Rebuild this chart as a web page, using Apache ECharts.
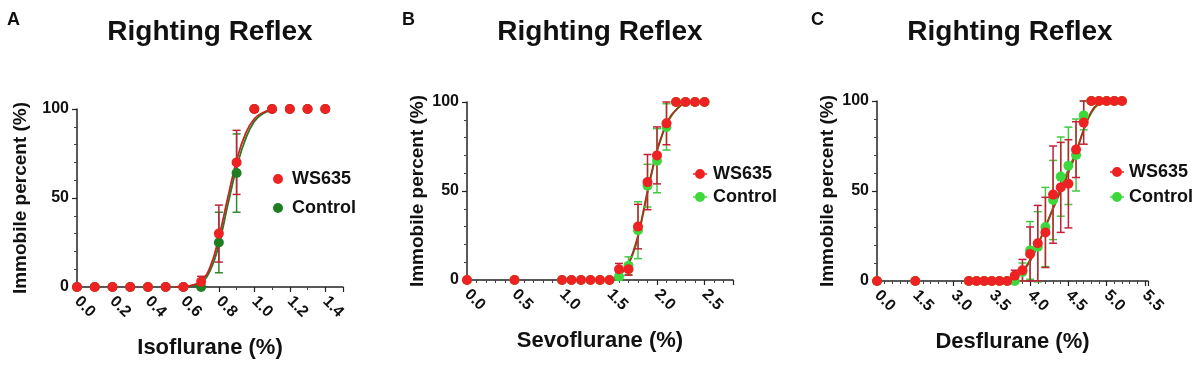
<!DOCTYPE html>
<html>
<head>
<meta charset="utf-8">
<script src="https://cdn.jsdelivr.net/npm/echarts@6/dist/echarts.min.js"></script>
<style>
  html, body { margin: 0; padding: 0; background: #fff; }
  #chart { width: 1200px; height: 367px; }
</style>
</head>
<body>
<div id="chart"></div>
<script>
// A - isoflurane
const isoX = [0, 0.1, 0.2, 0.3, 0.4, 0.5, 0.6, 0.7, 0.8, 0.9, 1.0, 1.1, 1.2, 1.3, 1.4];
const isoWs = [0, 0, 0, 0, 0, 0, 0, 3, 30, 70, 100, 100, 100, 100, 100];
const isoWsErr = [0, 0, 0, 0, 0, 0, 0, 3, 16, 18, 0, 0, 0, 0, 0];
const isoCtl = [0, 0, 0, 0, 0, 0, 0, 0, 25, 64, 100, 100, 100, 100, 100];
const isoCtlErr = [0, 0, 0, 0, 0, 0, 0, 0, 17, 22, 0, 0, 0, 0, 0];
const isoFitX = [0.55, 0.6, 0.65, 0.7, 0.75, 0.8, 0.85, 0.9, 0.95, 1.0, 1.05, 1.1];
const isoFitWs = [0, 0.3, 1, 3.5, 11, 28, 50, 71, 86, 94.5, 98, 99.6];
const isoFitCtl = [0, 0.2, 0.7, 2.5, 9, 24, 46, 67, 83, 93, 97.5, 99.4];

// B - sevoflurane
const sevoX = [0, 0.5, 1.0, 1.1, 1.2, 1.3, 1.4, 1.5, 1.6, 1.7, 1.8, 1.9, 2.0, 2.1, 2.2, 2.3, 2.4, 2.5];
const sevoWs = [0, 0, 0, 0, 0, 0, 0, 0, 6, 6, 30, 55, 70, 88, 100, 100, 100, 100];
const sevoWsErr = [0, 0, 0, 0, 0, 0, 0, 0, 3.3, 3.3, 12.5, 15.5, 16, 12, 0, 0, 0, 0];
const sevoCtl = [0, 0, 0, 0, 0, 0, 0, 0, 2, 8, 28, 53, 67, 86, 100, 100, 100, 100];
const sevoCtlErr = [0, 0, 0, 0, 0, 0, 0, 0, 2, 5, 16, 12, 18, 13, 0, 0, 0, 0];
const sevoFitX = [1.45, 1.5, 1.55, 1.6, 1.65, 1.7, 1.75, 1.8, 1.85, 1.9, 1.95, 2.0, 2.05, 2.1, 2.15, 2.2, 2.25, 2.3];
const sevoFitWs = [0, 0.5, 1.2, 3, 5.5, 9.5, 16, 25, 37, 50, 62, 73, 81, 88, 92.5, 95.5, 98, 99.5];
const sevoFitCtl = [0, 0.4, 1, 2.6, 5, 9, 15, 24, 36, 49, 61, 72, 80.5, 87.5, 92, 95.5, 98, 99.5];

// C - desflurane (segmented axis like the original)
const desTicks = ['0.0', '1.5', '3.0', '3.5', '4.0', '4.5', '5.0', '5.5'];
const desX = [0, 1.5, 3.2, 3.3, 3.4, 3.5, 3.6, 3.7, 3.8, 3.9, 4.0, 4.1, 4.2, 4.3, 4.4, 4.5, 4.6, 4.7, 4.8, 4.9, 5.0, 5.1, 5.2];
const desWs = [0, 0, 0, 0, 0, 0, 0, 0, 3, 6, 15, 21, 27, 48, 52, 54, 73, 88, 100, 100, 100, 100, 100];
const desWsErr = [0, 0, 0, 0, 0, 0, 0, 0, 3, 6, 15, 21, 19.5, 27, 25, 24.5, 15.5, 12, 0, 0, 0, 0, 0];
const desCtl = [0, 0, 0, 0, 0, 0, 0, 0, 0, 5, 17, 19, 30, 45, 58, 64, 70, 92, 100, 100, 100, 100, 100];
const desCtlErr = [0, 0, 0, 0, 0, 0, 0, 0, 0, 5, 16, 19.5, 22, 22, 22, 21.5, 20, 8, 0, 0, 0, 0, 0];
const desFitX = [3.6, 3.7, 3.8, 3.9, 4.0, 4.1, 4.2, 4.3, 4.4, 4.5, 4.6, 4.7, 4.8, 4.9, 5.0];
const desFitWs = [0, 0.8, 2.5, 5.5, 11, 20, 30, 40, 50, 60, 71, 84, 94, 98.5, 100];
const desFitCtl = [0, 0.7, 2.3, 5.5, 12, 20, 30, 41, 52, 62, 72, 84, 93.5, 98.5, 100];

const FONT = '"Liberation Sans", Arial, sans-serif';
const RED = '#ee2222';
const RED_ERR = '#c41f36';
const GREEN_A = '#1f7d22';
const GREEN = '#3cd83c';

const desPos = x => x <= 3 ? x / 1.5 : 2 + (x - 3) / 0.5;

const pts = (xs, ys, fx) => xs.map((x, i) => [fx ? fx(x) : x, ys[i]]);
const errs = (xs, ys, es, fx) => xs
    .map((x, i) => [fx ? fx(x) : x, ys[i] - es[i], ys[i] + es[i], es[i]])
    .filter(d => d[3] > 0);

const errItem = color => (params, api) => {
    let x = api.value(0);
    let lo = api.coord([x, api.value(1)]);
    let hi = api.coord([x, api.value(2)]);
    let w = 4;
    let style = { stroke: color, lineWidth: 1.5 };
    return {
        type: 'group',
        children: [
            { type: 'line', shape: { x1: lo[0], y1: lo[1], x2: hi[0], y2: hi[1] }, style },
            { type: 'line', shape: { x1: hi[0] - w, y1: hi[1], x2: hi[0] + w, y2: hi[1] }, style },
            { type: 'line', shape: { x1: lo[0] - w, y1: lo[1], x2: lo[0] + w, y2: lo[1] }, style }
        ]
    };
};

const axisBase = {
    axisLine: { show: true, onZero: false, lineStyle: { color: '#222', width: 1.5 } },
    axisTick: { show: true, length: 5, lineStyle: { color: '#222', width: 1.2 } },
    minorTick: { show: true, length: 3, lineStyle: { color: '#444', width: 1 } },
    splitLine: { show: false },
    nameLocation: 'middle',
    nameTextStyle: { fontFamily: FONT, fontWeight: 'bold', color: '#111' }
};

const makeX = (gi, max, interval, split, name, fmt) => Object.assign({}, axisBase, {
    gridIndex: gi, type: 'value', min: 0, max: max, interval: interval,
    minorTick: Object.assign({}, axisBase.minorTick, { splitNumber: split }),
    axisLabel: {
        rotate: -45, margin: 12, fontSize: 16, fontWeight: 'bold', fontFamily: FONT, color: '#111',
        showMaxLabel: false, formatter: fmt
    },
    name: name, nameGap: 50,
    nameTextStyle: Object.assign({}, axisBase.nameTextStyle, { fontSize: 22 })
});

const makeY = (gi, gap) => Object.assign({}, axisBase, {
    gridIndex: gi, type: 'value', min: 0, max: 100, interval: 50,
    minorTick: Object.assign({}, axisBase.minorTick, { splitNumber: 5 }),
    axisLabel: { margin: 8, fontSize: 16, fontWeight: 'bold', fontFamily: FONT, color: '#111' },
    name: 'Immobile percent (%)', nameGap: gap,
    nameTextStyle: Object.assign({}, axisBase.nameTextStyle, { fontSize: 19 })
});

const curve = (gi, data, color) => ({
    type: 'line', xAxisIndex: gi, yAxisIndex: gi, data: data, smooth: 0.5,
    showSymbol: false, symbol: 'none', clip: false, silent: true,
    lineStyle: { color: color, width: 1.8 }, z: 2
});
const errSeries = (gi, data, color) => ({
    type: 'custom', xAxisIndex: gi, yAxisIndex: gi, data: data, renderItem: errItem(color),
    silent: true, clip: false, z: 3
});
const dots = (gi, name, data, color, z) => ({
    type: 'scatter', name: name, xAxisIndex: gi, yAxisIndex: gi, data: data,
    symbolSize: 10, itemStyle: { color: color, opacity: 1 }, clip: false, z: z
});

const lineDot = 'path://M0,4.2 L2,4.2 L2,5.8 L0,5.8 Z M12,4.2 L14,4.2 L14,5.8 L12,5.8 Z M2,5 A5,5 0 1 1 12,5 A5,5 0 1 1 2,5 Z';
const legendText = pad => ({ fontFamily: FONT, fontWeight: 'bold', fontSize: 18, color: '#111', padding: [0, 0, 0, pad] });

const heading = (x, text) => ({
    type: 'text', x: x, y: 32,
    style: { text: text, font: 'bold 28px ' + FONT, fill: '#111', textAlign: 'center', textVerticalAlign: 'middle' }
});
const letter = (x, text) => ({
    type: 'text', x: x, y: 20,
    style: { text: text, font: 'bold 18px ' + FONT, fill: '#111', textAlign: 'left', textVerticalAlign: 'middle' }
});

const chart = echarts.init(document.getElementById('chart'), null, { renderer: 'canvas' });
chart.setOption({
    animation: false,
    backgroundColor: '#fff',
    graphic: [
        letter(7, 'A'), letter(402, 'B'), letter(811, 'C'),
        heading(210, 'Righting Reflex'), heading(600, 'Righting Reflex'), heading(1010, 'Righting Reflex')
    ],
    grid: [
        { left: 77, top: 109, width: 266, height: 178 },
        { left: 467, top: 102, width: 266, height: 178 },
        { left: 877, top: 101, width: 271, height: 180 }
    ],
    xAxis: [
        makeX(0, 1.5, 0.2, 2, 'Isoflurane (%)', v => v.toFixed(1)),
        makeX(1, 2.8, 0.5, 5, 'Sevoflurane (%)', v => v.toFixed(1)),
        makeX(2, 7.08, 1, 5, 'Desflurane (%)', v => desTicks[Math.round(v)] || '')
    ],
    yAxis: [makeY(0, 47), makeY(1, 40), makeY(2, 40)],
    legend: [
        {
            left: 268, top: 165, orient: 'vertical', itemGap: 11, itemWidth: 10, itemHeight: 10,
            icon: 'circle', textStyle: legendText(4), selectedMode: false,
            data: [{ name: 'WS635', itemStyle: { color: RED } }, { name: 'Control', itemStyle: { color: GREEN_A } }]
        },
        {
            left: 688, top: 160, orient: 'vertical', itemGap: 5, itemWidth: 14, itemHeight: 10,
            textStyle: legendText(1), selectedMode: false,
            data: [{ name: 'WS635', icon: lineDot, itemStyle: { color: RED } }, { name: 'Control', icon: lineDot, itemStyle: { color: GREEN } }]
        },
        {
            left: 1105, top: 158, orient: 'vertical', itemGap: 7, itemWidth: 14, itemHeight: 10,
            textStyle: legendText(0), selectedMode: false,
            data: [{ name: 'WS635', icon: lineDot, itemStyle: { color: RED } }, { name: 'Control', icon: lineDot, itemStyle: { color: GREEN } }]
        }
    ],
    series: [
        curve(0, pts(isoFitX, isoFitCtl), '#237a22'),
        curve(0, pts(isoFitX, isoFitWs), '#cc2222'),
        errSeries(0, errs(isoX, isoCtl, isoCtlErr), '#2e8a2e'),
        errSeries(0, errs(isoX, isoWs, isoWsErr), RED_ERR),
        dots(0, 'Control', pts(isoX, isoCtl), GREEN_A, 4),
        dots(0, 'WS635', pts(isoX, isoWs), RED, 5),

        curve(1, pts(sevoFitX, sevoFitCtl), '#5f8a22'),
        curve(1, pts(sevoFitX, sevoFitWs), '#9a3a1c'),
        errSeries(1, errs(sevoX, sevoCtl, sevoCtlErr), '#44c844'),
        errSeries(1, errs(sevoX, sevoWs, sevoWsErr), RED_ERR),
        dots(1, 'Control', pts(sevoX, sevoCtl), GREEN, 4),
        dots(1, 'WS635', pts(sevoX, sevoWs), RED, 5),

        curve(2, pts(desFitX, desFitCtl, desPos), '#5f8a22'),
        curve(2, pts(desFitX, desFitWs, desPos), '#9a3a1c'),
        errSeries(2, errs(desX, desCtl, desCtlErr, desPos), '#44c844'),
        errSeries(2, errs(desX, desWs, desWsErr, desPos), RED_ERR),
        dots(2, 'Control', pts(desX, desCtl, desPos), GREEN, 4),
        dots(2, 'WS635', pts(desX, desWs, desPos), RED, 5)
    ]
});
</script>
</body>
</html>
